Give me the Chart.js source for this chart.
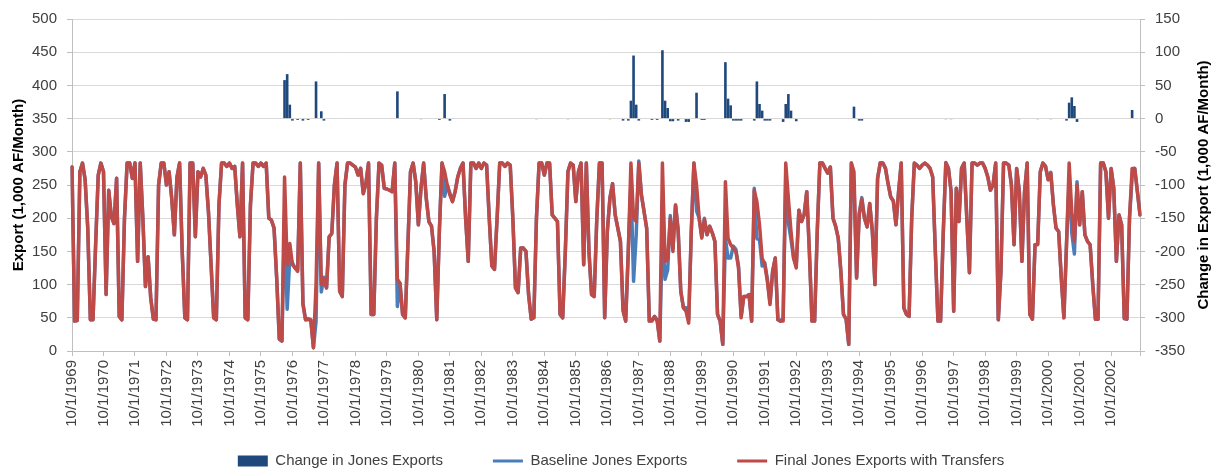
<!DOCTYPE html>
<html><head><meta charset="utf-8">
<script src="https://cdn.jsdelivr.net/npm/chart.js@4.4.1/dist/chart.umd.min.js"></script>
<style>html,body{margin:0;padding:0;background:#fff;overflow:hidden}</style>
</head><body>
<canvas id="c" width="1213" height="471"></canvas>
<script>
// Monthly values, water years Oct 1969 - Sep 2003 (12 per line)
const finalExports = [
277,45,46,270,283,258,185,47,47,160,265,283,
270,85,242,202,192,260,52,47,200,283,283,260,
283,135,283,200,97,142,80,48,47,250,283,283,
250,270,230,175,262,283,150,50,47,283,283,172,
270,262,275,265,210,130,50,47,220,283,283,278,
283,275,278,220,172,283,50,47,220,283,283,278,
283,278,283,200,197,185,110,18,15,262,130,162,
130,125,120,283,70,47,47,47,5,100,283,100,
108,95,172,177,250,283,90,82,250,283,283,280,
277,265,275,237,252,283,55,55,200,283,280,245,
244,242,240,283,108,102,55,50,160,270,283,255,
190,245,283,230,195,188,150,47,180,283,270,250,
235,225,240,262,275,283,200,135,283,283,275,283,
275,283,280,200,128,123,200,283,283,278,283,280,
200,95,88,155,155,150,85,48,50,200,283,283,
265,283,283,205,200,195,55,50,150,270,283,280,
225,270,283,130,283,150,85,82,200,283,283,50,
180,230,252,205,185,165,60,45,150,283,200,195,
283,235,210,185,45,45,52,45,15,283,135,138,
200,150,220,180,90,65,60,42,180,283,250,200,
170,198,175,188,178,165,55,45,10,255,170,160,
155,150,125,50,82,82,85,45,242,225,190,140,
130,105,70,120,140,47,45,45,283,230,180,140,
125,212,195,205,240,150,45,45,180,283,283,275,
268,277,200,188,170,120,55,48,10,283,270,110,
205,228,200,187,222,180,100,260,283,283,275,252,
232,226,190,240,283,65,55,52,200,283,280,275,
280,283,280,275,262,150,45,45,175,283,275,240,
60,245,195,275,283,200,118,283,283,280,283,283,
275,262,242,250,283,47,120,283,283,280,250,160,
275,240,135,240,283,55,48,160,160,270,283,278,
258,268,220,185,180,110,50,160,283,210,165,250,
190,240,175,165,160,100,48,48,283,283,270,200,
275,245,135,205,190,49,48,200,275,275,240,205
];
const baselineExports = [
277,45,46,270,283,258,185,47,47,160,265,283,
270,85,242,202,192,260,52,47,200,283,283,260,
283,135,283,200,97,142,80,48,47,250,283,283,
250,270,230,175,262,283,150,50,47,283,283,172,
270,262,275,265,210,130,50,47,220,283,283,278,
283,275,278,220,172,283,50,47,220,283,283,278,
283,278,283,200,197,185,110,18,15,204,63,141,
133,125,122,283,73,47,49,47,5,44,283,89,
111,95,172,177,250,283,90,82,250,283,283,280,
277,265,275,237,252,283,55,55,200,283,280,245,
244,242,240,283,67,102,55,50,160,270,283,255,
190,246,283,230,195,188,150,47,182,283,233,250,
238,225,240,262,275,283,200,135,283,283,275,283,
275,283,280,200,128,123,200,283,283,278,283,280,
200,95,88,155,155,150,85,48,50,201,283,283,
265,283,283,205,200,195,55,50,150,271,283,280,
225,270,283,130,283,150,85,82,200,283,283,50,
180,231,252,205,185,165,63,45,153,256,105,174,
286,235,210,185,45,47,52,47,15,180,108,122,
204,154,220,183,90,65,65,47,180,283,211,200,
172,200,175,188,178,165,55,45,10,170,140,140,
158,153,128,53,82,82,85,45,245,169,168,128,
133,108,73,120,140,47,45,50,261,193,168,140,
129,212,195,205,240,150,45,45,180,283,283,275,
268,277,200,188,170,120,55,48,10,283,252,110,
208,231,200,187,222,180,100,260,283,283,275,252,
232,226,190,240,283,65,55,52,200,283,280,275,
280,283,280,275,262,150,45,45,175,284,275,241,
60,245,195,275,283,200,118,283,283,280,283,283,
275,262,242,250,283,47,120,283,283,280,250,160,
275,241,135,240,283,55,48,160,161,270,283,278,
258,269,220,185,180,110,50,163,259,178,146,255,
190,240,175,165,160,100,48,48,283,283,270,200,
275,245,135,205,190,49,48,200,262,275,240,205
];
const changeExports = [
0,0,0,0,0,0,0,0,0,0,0,0,
0,0,0,0,0,0,0,0,0,0,0,0,
0,0,0,0,0,0,0,0,0,0,0,0,
0,0,0,0,0,0,0,0,0,0,0,0,
0,0,0,0,0,0,0,0,0,0,0,0,
0,0,0,0,0,0,0,0,0,0,0,0,
0,0,0,0,0,0,0,0,0,58,67,21,
-3,0,-2,0,-3,0,-2,0,0,56,0,11,
-3,0,0,0,0,0,0,0,0,0,0,0,
0,0,0,0,0,0,0,0,0,0,0,0,
0,0,0,0,41,0,0,0,0,0,0,0,
0,-1,0,0,0,0,0,0,-2,0,37,0,
-3,0,0,0,0,0,0,0,0,0,0,0,
0,0,0,0,0,0,0,0,0,0,0,0,
0,0,0,0,0,0,0,0,0,-1,0,0,
0,0,0,0,0,0,0,0,0,-1,0,0,
0,0,0,0,0,0,0,0,0,0,0,0,
0,-1,0,0,0,0,-3,0,-3,27,95,21,
-3,0,0,0,0,-2,0,-2,0,103,27,16,
-4,-4,0,-3,0,0,-5,-5,0,0,39,0,
-2,-2,0,0,0,0,0,0,0,85,30,20,
-3,-3,-3,-3,0,0,0,0,-3,56,22,12,
-3,-3,-3,0,0,0,0,-5,22,37,12,0,
-4,0,0,0,0,0,0,0,0,0,0,0,
0,0,0,0,0,0,0,0,0,0,18,0,
-3,-3,0,0,0,0,0,0,0,0,0,0,
0,0,0,0,0,0,0,0,0,0,0,0,
0,0,0,0,0,0,0,0,0,-1,0,-1,
0,0,0,0,0,0,0,0,0,0,0,0,
0,0,0,0,0,0,0,0,0,0,0,0,
0,-1,0,0,0,0,0,0,-1,0,0,0,
0,-1,0,0,0,0,0,-3,24,32,19,-5,
0,0,0,0,0,0,0,0,0,0,0,0,
0,0,0,0,0,0,0,0,13,0,0,0
];
const exportTicks = [0,50,100,150,200,250,300,350,400,450,500];
const changeTicks = [-350,-300,-250,-200,-150,-100,-50,0,50,100,150];
const seriesNames = ['Change in Jones Exports','Baseline Jones Exports','Final Jones Exports with Transfers'];
const leftTitle = 'Export (1,000 AF/Month)';
const rightTitle = 'Change in Export (1,000 AF/Month)';

// category labels: first of each month starting 10/1/1969
const months = [];
for (let i = 0; i < finalExports.length; i++) {
  const m = (9 + i) % 12 + 1;
  const y = 1969 + Math.floor((9 + i) / 12);
  months.push(m + '/1/' + y);
}

const FONT = '"Liberation Sans", Arial, sans-serif';
Chart.defaults.font.family = FONT;
Chart.defaults.color = '#404040';

const axisTitles = {
  id: 'axisTitles',
  afterLayout(chart) {
    // let rotated date labels extend below the (shortened) axis box
    chart.scales.x.bottom = chart.height;
  },
  afterDraw(chart) {
    const {ctx, chartArea} = chart;
    const cy = (chartArea.top + chartArea.bottom) / 2;
    ctx.save();
    ctx.font = 'bold 15px ' + FONT;
    ctx.fillStyle = '#000';
    ctx.textAlign = 'center';
    ctx.textBaseline = 'middle';
    [[18.5, leftTitle], [chart.width - 9, rightTitle]].forEach(([x, t]) => {
      ctx.save();
      ctx.translate(x, cy);
      ctx.rotate(-Math.PI / 2);
      ctx.fillText(t, 0, 0);
      ctx.restore();
    });
    ctx.restore();
  }
};

const lastIdx = months.length - 1;
new Chart(document.getElementById('c'), {
  type: 'bar',
  data: {
    labels: months,
    datasets: [
      { label: seriesNames[0], data: changeExports, yAxisID: 'y2', backgroundColor: '#1F497D',
        borderWidth: 0, inflateAmount: 0, barPercentage: 1, categoryPercentage: 1, order: 3 },
      { type: 'line', label: seriesNames[1], data: baselineExports, yAxisID: 'y', borderColor: '#4A7EBB',
        backgroundColor: '#4A7EBB', borderWidth: 3.5, pointRadius: 0, tension: 0, order: 2,
        borderJoinStyle: 'round', borderCapStyle: 'round' },
      { type: 'line', label: seriesNames[2], data: finalExports, yAxisID: 'y', borderColor: '#BE4B48',
        backgroundColor: '#BE4B48', borderWidth: 3.5, pointRadius: 0, tension: 0, order: 1,
        borderJoinStyle: 'round', borderCapStyle: 'round' }
    ]
  },
  options: {
    responsive: false,
    animation: false,
    layout: { padding: { left: 29, right: 0, top: 17, bottom: -7.5 } },
    plugins: {
      tooltip: { enabled: false },
      legend: {
        position: 'bottom',
        labels: {
          font: { size: 15 }, color: '#404040',
          usePointStyle: true, pointStyleWidth: 30, boxHeight: 11, padding: 50,
          sort: (a, b) => a.datasetIndex - b.datasetIndex,
          generateLabels(chart) {
            const items = Chart.defaults.plugins.legend.labels.generateLabels(chart);
            items.forEach(it => {
              if (it.datasetIndex === 0) { it.pointStyle = 'rect'; it.lineWidth = 0; it.fillStyle = '#1F497D'; }
              else { it.pointStyle = 'line'; it.lineWidth = 3; }
            });
            return items;
          }
        }
      }
    },
    scales: {
      x: {
        offset: false,
        grid: { display: true, drawOnChartArea: false, offset: false, tickLength: 5,
          color: c => (c.index % 12 === 0 || c.index === lastIdx) ? '#bfbfbf' : 'rgba(0,0,0,0)',
          tickColor: c => (c.index % 12 === 0 || c.index === lastIdx) ? '#bfbfbf' : 'rgba(0,0,0,0)' },
        border: { color: '#bfbfbf' },
        ticks: { autoSkip: false, maxRotation: 90, minRotation: 90, padding: 4,
          font: { size: 15 }, color: '#404040',
          callback(v, i) { return i % 12 === 0 ? this.getLabelForValue(v) : ''; } },
        afterFit(s) { s.height = 52.5; }
      },
      y: {
        position: 'left', min: exportTicks[0], max: exportTicks[exportTicks.length - 1],
        afterBuildTicks(s) { s.ticks = exportTicks.map(v => ({ value: v })); },
        grid: { color: '#d9d9d9', tickColor: '#bfbfbf', tickLength: 5 },
        border: { color: '#bfbfbf' },
        ticks: { padding: 10, font: { size: 15 }, color: '#404040' },
        afterFit(s) { s.width = 43; }
      },
      y2: {
        position: 'right', min: changeTicks[0], max: changeTicks[changeTicks.length - 1],
        afterBuildTicks(s) { s.ticks = changeTicks.map(v => ({ value: v })); },
        grid: { drawOnChartArea: false, tickColor: '#bfbfbf', tickLength: 5 },
        border: { color: '#bfbfbf' },
        ticks: { padding: 10, font: { size: 15 }, color: '#404040' },
        afterFit(s) { s.width = 73; }
      }
    }
  },
  plugins: [axisTitles]
});
</script>
</body></html>
